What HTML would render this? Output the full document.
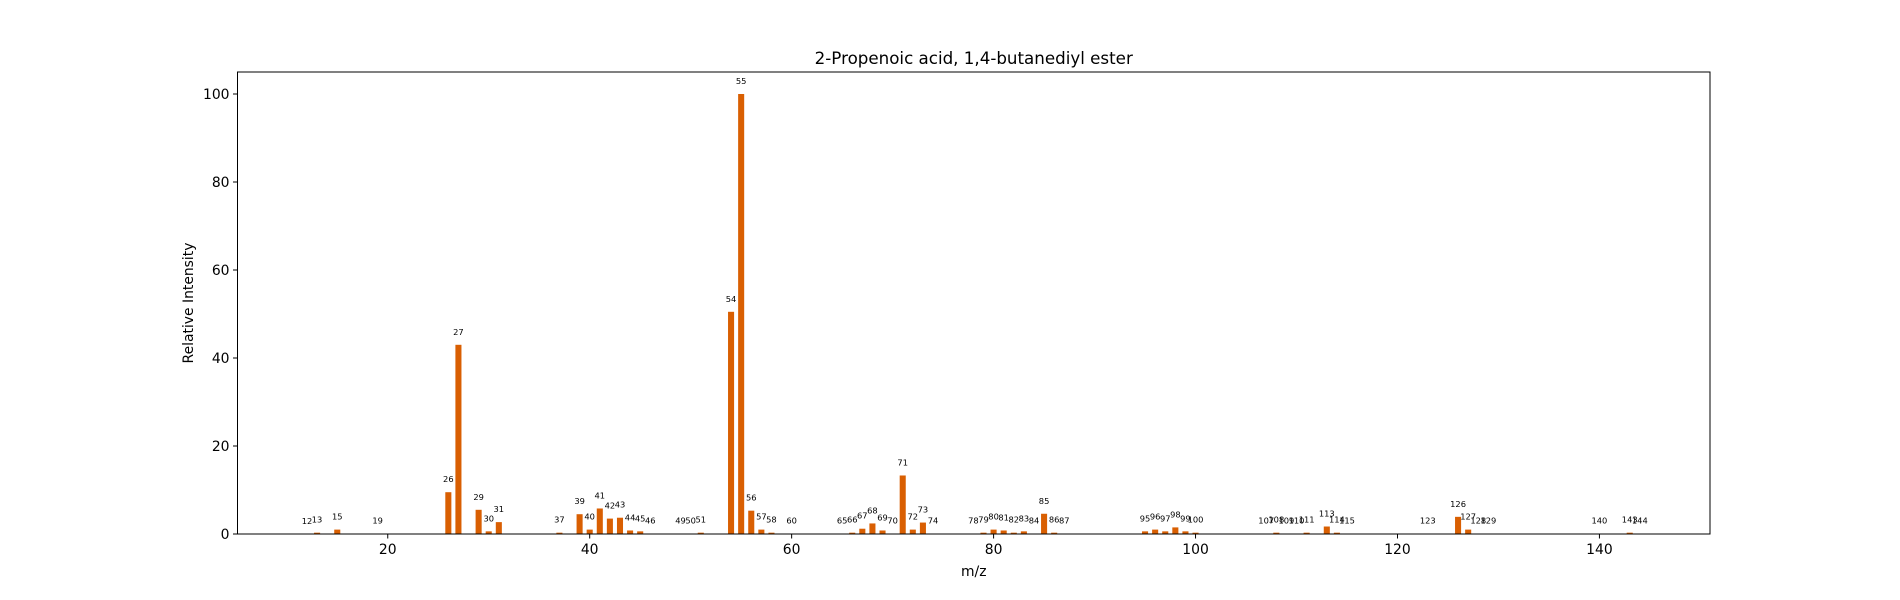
<!DOCTYPE html>
<html><head><meta charset="utf-8"><style>
body{margin:0;background:#fff}
svg{display:block;font-family:"DejaVu Sans","Liberation Sans",sans-serif}
</style></head><body>
<svg id="chart" width="1900" height="600"></svg>
<script>
const mzValues=[12,13,15,19,26,27,29,30,31,37,39,40,41,42,43,44,45,46,49,50,51,54,55,56,57,58,60,65,66,67,68,69,70,71,72,73,74,78,79,80,81,82,83,84,85,86,87,95,96,97,98,99,100,107,108,109,110,111,113,114,115,123,126,127,128,129,140,143,144];
const intensities=[0.05,0.3,1.0,0.1,9.5,43,5.5,0.6,2.7,0.3,4.5,1.0,5.8,3.5,3.7,0.8,0.6,0.1,0.1,0.1,0.3,50.5,100,5.3,1.0,0.3,0.1,0.1,0.3,1.2,2.4,0.8,0.1,13.3,1.0,2.6,0.1,0.1,0.3,1.0,0.8,0.3,0.6,0.1,4.6,0.3,0.1,0.6,1.0,0.6,1.5,0.6,0.3,0.1,0.3,0.1,0.1,0.3,1.7,0.3,0.1,0.1,3.9,1.0,0.1,0.1,0.1,0.3,0.1];
const xTicks=[20,40,60,80,100,120,140];
const yTicks=[0,20,40,60,80,100];
const NS="http://www.w3.org/2000/svg";
const svg=document.getElementById('chart');
const L=237.5,R=1710,T=72,B=534;
const xmin=5.12,xmax=150.95,ymax=105;
const xs=v=>L+(v-xmin)/(xmax-xmin)*(R-L);
const ys=v=>B-v/ymax*(B-T);
function mk(tag,attrs,parent){const e=document.createElementNS(NS,tag);for(const k in attrs)e.setAttribute(k,attrs[k]);(parent||svg).appendChild(e);return e;}
const bars=mk('g',{});


const bw=0.6*(R-L)/(xmax-xmin);
mzValues.forEach((m,i)=>{
  const v=intensities[i];
  const r=mk('rect',{x:xs(m)-bw/2,y:ys(v),width:bw,height:B-ys(v),fill:'#d95f02'},bars);
  
  
  const t=mk('text',{x:xs(m),y:ys(v)-10,'font-size':8.3,'text-anchor':'middle',fill:'#000'},bars);
  
  
  t.textContent=m;
});
const frame=mk('rect',{x:L,y:T,width:R-L,height:B-T,fill:'none',stroke:'#000','stroke-width':1});


xTicks.forEach(v=>{
  const x=xs(v);
  mk('line',{x1:x,x2:x,y1:B,y2:B+4.5,stroke:'#000'});
  const t=mk('text',{x:x,y:B+20,'font-size':13.9,'text-anchor':'middle'});
  
  
  t.textContent=v;
});
yTicks.forEach(v=>{
  const y=ys(v);
  mk('line',{x1:L-4.5,x2:L,y1:y,y2:y,stroke:'#000'});
  const t=mk('text',{x:L-8,y:y+5,'font-size':13.9,'text-anchor':'end'});
  
  
  t.textContent=v;
});
const title=mk('text',{x:(L+R)/2,y:64,'font-size':16.7,'text-anchor':'middle'});


title.textContent='2-Propenoic acid, 1,4-butanediyl ester';
const xl=mk('text',{x:(L+R)/2,y:576,'font-size':13.9,'text-anchor':'middle'});


xl.textContent='m/z';
const yl=mk('text',{x:0,y:0,'font-size':13.9,'text-anchor':'middle',transform:'translate(193,'+((T+B)/2)+') rotate(-90)'});


yl.textContent='Relative Intensity';
</script>
</body></html>
